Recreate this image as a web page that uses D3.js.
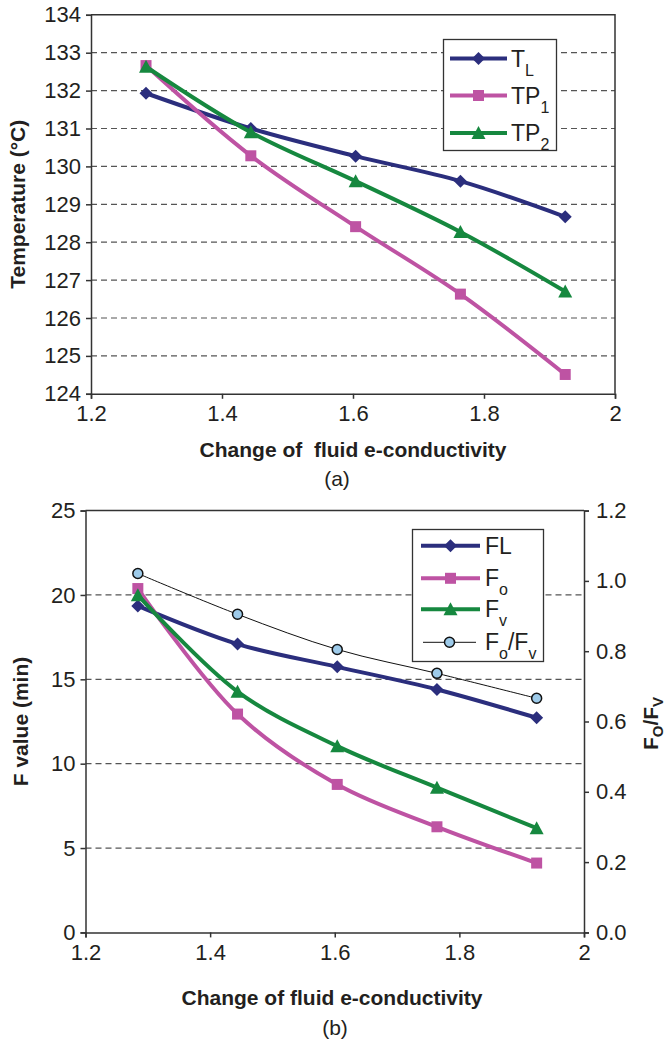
<!DOCTYPE html>
<html>
<head>
<meta charset="utf-8">
<script src="https://cdn.jsdelivr.net/npm/d3@7"></script>
<style>
  html, body { margin: 0; padding: 0; background: #fff; }
  svg { display: block; }
  text { font-family: "Liberation Sans", Arial, sans-serif; fill: #231f20; }
</style>
</head>
<body>
<svg id="chart" width="668" height="1041"></svg>
<script>
// Shared x values: change of fluid electrical conductivity
const conductivity = [1.284, 1.444, 1.604, 1.764, 1.924];

// Panel (a): temperatures (°C)
const tempTL  = [131.93, 131.00, 130.27, 129.61, 128.67];
const tempTP1 = [132.66, 130.28, 128.41, 126.63, 124.51];
const tempTP2 = [132.63, 130.90, 129.61, 128.27, 126.70];

// Panel (b): F values (min) and the Fo/Fv ratio
const fFL    = [19.35, 17.09, 15.74, 14.40, 12.72];
const fFo    = [20.38, 12.94, 8.77, 6.26, 4.11];
const fFv    = [19.99, 14.27, 11.04, 8.58, 6.18];
const fRatio = [1.021, 0.905, 0.805, 0.737, 0.666];

// Tick values
const xTicks     = [1.2, 1.4, 1.6, 1.8, 2.0];
const tempTicks  = [124, 125, 126, 127, 128, 129, 130, 131, 132, 133, 134];
const fTicks     = [0, 5, 10, 15, 20, 25];
const ratioTicks = [0, 0.2, 0.4, 0.6, 0.8, 1.0, 1.2];

const COLORS = { navy: "#2b2e7d", pink: "#be53a3", green: "#16883f", dot: "#9ecbea", axis: "#333333", grid: "#555555" };
const TICK_FONT = 22, TITLE_FONT = 21;

const svg = d3.select("#chart");
const curve = d3.curveCatmullRom.alpha(0.5);

// Marker shapes
const markerPath = {
  diamond: "M0,-6.5L6.5,0L0,6.5L-6.5,0Z",
  square: "M-5.5,-5.5H5.5V5.5H-5.5Z",
  triangle: "M0,-7L7,6L-7,6Z",
};

function drawMarkers(g, pts, kind, color) {
  if (kind === "circle") {
    g.selectAll(null).data(pts).join("circle")
      .attr("cx", d => d[0]).attr("cy", d => d[1]).attr("r", 5)
      .attr("fill", COLORS.dot).attr("stroke", "#111").attr("stroke-width", 1.5);
  } else {
    g.selectAll(null).data(pts).join("path")
      .attr("d", markerPath[kind])
      .attr("transform", d => `translate(${d[0]},${d[1]})`)
      .attr("fill", color);
  }
}

function drawSeries(g, x, y, values, color, kind, width) {
  const pts = conductivity.map((c, i) => [x(c), y(values[i])]);
  g.append("path")
    .attr("d", d3.line().curve(curve)(pts))
    .attr("fill", "none").attr("stroke", color).attr("stroke-width", width)
    .attr("stroke-linejoin", "round");
  drawMarkers(g.append("g"), pts, kind, color);
}

function styleAxis(sel) {
  sel.select(".domain").attr("stroke", COLORS.axis).attr("stroke-width", 1.5);
  sel.selectAll(".tick line").attr("stroke", COLORS.axis).attr("stroke-width", 1.5);
  sel.selectAll(".tick text").attr("font-size", TICK_FONT).attr("fill", "#231f20")
    .attr("font-family", "'Liberation Sans', Arial, sans-serif");
}

function crossTicks(sel, dir) {
  // ticks extending on both sides of the axis line
  sel.selectAll(".tick line").attr(dir, -5).attr(dir + "2", 5);
}

function legend(g, box, items) {
  g.append("rect")
    .attr("x", box.x).attr("y", box.y).attr("width", box.w).attr("height", box.h)
    .attr("fill", "#fff").attr("stroke", "#333").attr("stroke-width", 1.3);
  items.forEach(it => {
    const lg = g.append("g");
    lg.append("line")
      .attr("x1", it.x1).attr("x2", it.x2).attr("y1", it.y).attr("y2", it.y)
      .attr("stroke", it.color).attr("stroke-width", it.width);
    drawMarkers(lg, [[(it.x1 + it.x2) / 2, it.y]], it.kind, it.color);
    const t = lg.append("text").attr("x", it.tx).attr("y", it.y + 8).attr("font-size", 23);
    it.parts.forEach(p => {
      const ts = t.append("tspan").text(p.t);
      if (p.sub) ts.attr("font-size", 16).attr("dy", 9);
      else if (p.after) ts.attr("dy", -9);
    });
  });
}

// ---------------- Panel (a) ----------------
{
  const L = 91, R = 615, T = 14.8, B = 393.8;
  const x = d3.scaleLinear().domain([1.2, 2]).range([L, R]);
  const y = d3.scaleLinear().domain([124, 134]).range([B, T]);
  const g = svg.append("g");

  // dashed gridlines
  g.append("g").selectAll("line").data(tempTicks.filter(v => v > 124 && v < 134)).join("line")
    .attr("x1", L).attr("x2", R).attr("y1", d => y(d)).attr("y2", d => y(d))
    .attr("stroke", COLORS.grid).attr("stroke-width", 1.2).attr("stroke-dasharray", "6,4");

  // plot frame (top and right)
  g.append("path").attr("d", `M${L},${T}H${R}V${B}`).attr("fill", "none")
    .attr("stroke", COLORS.axis).attr("stroke-width", 1.5);

  const xa = g.append("g").attr("transform", `translate(0,${B})`)
    .call(d3.axisBottom(x).tickValues(xTicks).tickSize(5).tickPadding(7).tickFormat(d3.format("")));
  styleAxis(xa); crossTicks(xa, "y");
  const ya = g.append("g").attr("transform", `translate(${L},0)`)
    .call(d3.axisLeft(y).tickValues(tempTicks).tickSize(5).tickPadding(5));
  styleAxis(ya);

  drawSeries(g, x, y, tempTL, COLORS.navy, "diamond", 4);
  drawSeries(g, x, y, tempTP1, COLORS.pink, "square", 4);
  drawSeries(g, x, y, tempTP2, COLORS.green, "triangle", 4);

  legend(g, { x: 443.5, y: 39.5, w: 113, h: 111 }, [
    { y: 58.5, x1: 450, x2: 507, tx: 511, color: COLORS.navy, kind: "diamond", width: 4, parts: [{ t: "T" }, { t: "L", sub: true }] },
    { y: 95.5, x1: 450, x2: 507, tx: 511, color: COLORS.pink, kind: "square", width: 4, parts: [{ t: "TP" }, { t: "1", sub: true }] },
    { y: 133, x1: 450, x2: 507, tx: 511, color: COLORS.green, kind: "triangle", width: 4, parts: [{ t: "TP" }, { t: "2", sub: true }] },
  ]);

  g.append("text").attr("x", 18).attr("y", (T + B) / 2)
    .attr("transform", `rotate(-90,18,${(T + B) / 2})`)
    .attr("text-anchor", "middle").attr("dominant-baseline", "central")
    .attr("font-size", TITLE_FONT).attr("font-weight", "bold").text("Temperature (°C)");
  g.append("text").attr("x", 353).attr("y", 457).attr("text-anchor", "middle")
    .attr("font-size", TITLE_FONT).attr("font-weight", "bold")
    .style("white-space", "pre").text("Change of  fluid e-conductivity");
  g.append("text").attr("x", 337).attr("y", 486).attr("text-anchor", "middle")
    .attr("font-size", 21).text("(a)");
}

// ---------------- Panel (b) ----------------
{
  const L = 85.5, R = 584, T = 510.6, B = 932.4;
  const x = d3.scaleLinear().domain([1.2, 2]).range([L, R]);
  const y = d3.scaleLinear().domain([0, 25]).range([B, T]);
  const y2 = d3.scaleLinear().domain([0, 1.2]).range([B, T]);
  const g = svg.append("g");

  g.append("g").selectAll("line").data(fTicks.filter(v => v > 0 && v < 25)).join("line")
    .attr("x1", L).attr("x2", R).attr("y1", d => y(d)).attr("y2", d => y(d))
    .attr("stroke", COLORS.grid).attr("stroke-width", 1.2).attr("stroke-dasharray", "6,4");

  g.append("line").attr("x1", L).attr("x2", R).attr("y1", T).attr("y2", T)
    .attr("stroke", COLORS.axis).attr("stroke-width", 1.5);

  const xa = g.append("g").attr("transform", `translate(0,${B})`)
    .call(d3.axisBottom(x).tickValues(xTicks).tickSize(5).tickPadding(7).tickFormat(d3.format("")));
  styleAxis(xa); crossTicks(xa, "y");
  const ya = g.append("g").attr("transform", `translate(${L},0)`)
    .call(d3.axisLeft(y).tickValues(fTicks).tickSize(5).tickPadding(5));
  styleAxis(ya);
  const ya2 = g.append("g").attr("transform", `translate(${R},0)`)
    .call(d3.axisRight(y2).tickValues(ratioTicks).tickSize(5).tickPadding(7).tickFormat(d3.format(".1f")));
  styleAxis(ya2); crossTicks(ya2, "x");

  drawSeries(g, x, y, fFL, COLORS.navy, "diamond", 4);
  drawSeries(g, x, y, fFo, COLORS.pink, "square", 4);
  drawSeries(g, x, y, fFv, COLORS.green, "triangle", 4);
  drawSeries(g, x, y2, fRatio, "#111", "circle", 1);

  legend(g, { x: 412.5, y: 529.5, w: 131, h: 132 }, [
    { y: 545.7, x1: 421, x2: 480, tx: 485, color: COLORS.navy, kind: "diamond", width: 4, parts: [{ t: "FL" }] },
    { y: 578.3, x1: 421, x2: 480, tx: 485, color: COLORS.pink, kind: "square", width: 4, parts: [{ t: "F" }, { t: "o", sub: true }] },
    { y: 609.3, x1: 421, x2: 480, tx: 485, color: COLORS.green, kind: "triangle", width: 4, parts: [{ t: "F" }, { t: "v", sub: true }] },
    { y: 642.3, x1: 423, x2: 476, tx: 485, color: "#111", kind: "circle", width: 1, parts: [{ t: "F" }, { t: "o", sub: true }, { t: "/F", after: true }, { t: "v", sub: true }] },
  ]);

  g.append("text").attr("x", 20).attr("y", (T + B) / 2)
    .attr("transform", `rotate(-90,20,${(T + B) / 2})`)
    .attr("text-anchor", "middle").attr("dominant-baseline", "central")
    .attr("font-size", TITLE_FONT).attr("font-weight", "bold").text("F value (min)");

  const rt = g.append("text").attr("x", 0).attr("y", 0)
    .attr("transform", `translate(658,${(T + B) / 2 + 2}) rotate(-90)`)
    .attr("text-anchor", "middle").attr("font-size", TITLE_FONT).attr("font-weight", "bold");
  rt.append("tspan").text("F");
  rt.append("tspan").text("O").attr("font-size", 15).attr("dy", 5);
  rt.append("tspan").text("/F").attr("dy", -5);
  rt.append("tspan").text("V").attr("font-size", 15).attr("dy", 5);

  g.append("text").attr("x", 332).attr("y", 1005).attr("text-anchor", "middle")
    .attr("font-size", TITLE_FONT).attr("font-weight", "bold").text("Change of fluid e-conductivity");
  g.append("text").attr("x", 335).attr("y", 1035).attr("text-anchor", "middle")
    .attr("font-size", 21).text("(b)");
}
</script>
</body>
</html>
